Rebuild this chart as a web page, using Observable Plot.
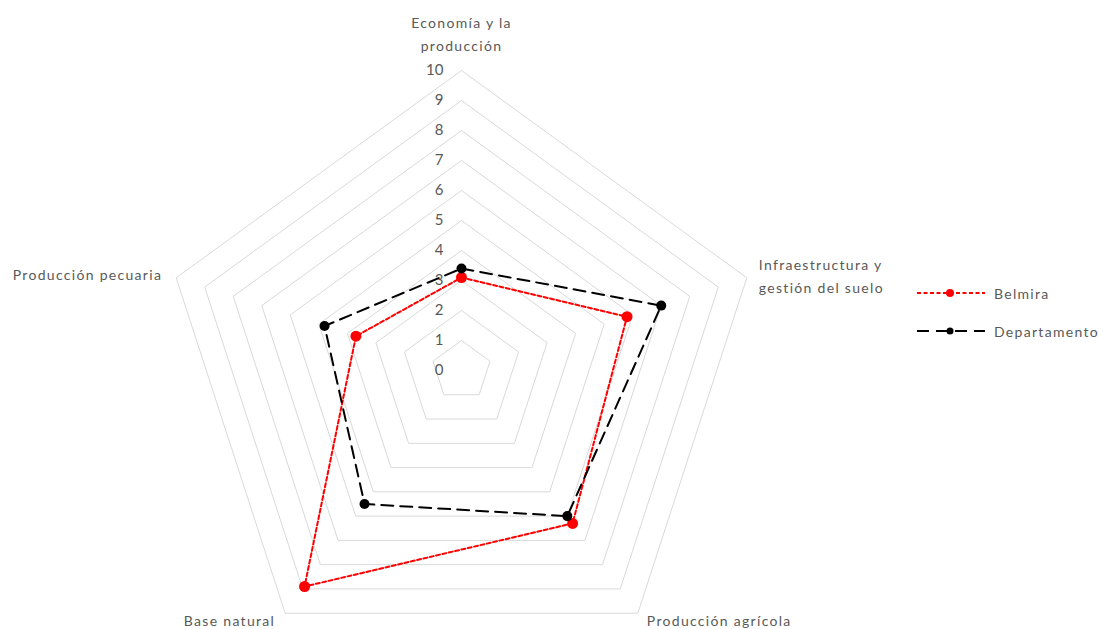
<!DOCTYPE html>
<html><head><meta charset="utf-8">
<script src="https://cdn.jsdelivr.net/npm/d3@7"></script>
<script src="https://cdn.jsdelivr.net/npm/@observablehq/plot@0.6"></script>
<style>
body{margin:0;background:#fff;font-family:Lato,"Open Sans",sans-serif;}
#wrap{position:relative;width:1103px;height:629px;overflow:hidden;}
#legend{position:absolute;left:917px;top:281px;font-size:14px;color:#595959;letter-spacing:1.3px;}
.row{display:flex;align-items:center;height:24px;margin-bottom:14px;white-space:nowrap;}
.row svg{margin-right:9px;}
</style></head><body><div id="wrap"><div id="legend"></div></div>
<script>
const categories = ["Economía y la\nproducción","Infraestructura y\ngestión del suelo","Producción agrícola","Base natural","Producción pecuaria"];
const belmira = [3.1, 5.8, 6.3, 8.9, 3.7];
const departamento = [3.4, 7.0, 6.0, 5.5, 4.8];
const tickValues = [0,1,2,3,4,5,6,7,8,9,10];
const seriesNames = ["Belmira","Departamento"];

const maxVal = 10;
const n = categories.length;
const ang = i => Math.PI/2 - 2*Math.PI*i/n;
const pt = (r,i) => ({x: r*Math.cos(ang(i)), y: r*Math.sin(ang(i))});

const gridData = tickValues.filter(t => t > 0).flatMap(l =>
  d3.range(n+1).map(i => ({level: l, ...pt(l, i % n)})));

const styles = {
  Belmira: {stroke:"#ff0000", dash:"4,2.5", r:5.5, lr:4},
  Departamento: {stroke:"#000000", dash:"12,7", r:5, lr:3.5}
};
const seriesVals = {Belmira: belmira, Departamento: departamento};
const seriesData = seriesNames.map(s => d3.range(n+1).map(i => ({series:s, ...pt(seriesVals[s][i % n], i % n)})));
const seriesPts = seriesNames.map(s => d3.range(n).map(i => ({series:s, ...pt(seriesVals[s][i], i)})));

const labelStyle = [
  {anchor:"middle", dx:0, dy:-38},
  {anchor:"start", dx:12, dy:-4},
  {anchor:"start", dx:9, dy:5},
  {anchor:"end", dx:-10, dy:5},
  {anchor:"end", dx:-14, dy:-5}
];
const labelData = categories.map((c,i) => ({label:c, ...pt(maxVal, i), ...labelStyle[i]}));

const font = {fontFamily:"Lato, sans-serif", fill:"#595959"};

const chart = Plot.plot({
  width: 1103, height: 629,
  margin: 0,
  x: {domain: [-461/30, 642/30], axis: null},
  y: {domain: [-259/30, 370/30], axis: null},
  marks: [
    Plot.line(gridData, {x:"x", y:"y", z:"level", stroke:"#d9d9d9", strokeWidth:1}),
    Plot.text(tickValues, {x:0, y:d=>d, text:d=>String(d), textAnchor:"end", dx:-18, fontSize:15, ...font}),
    ...labelData.map(d => Plot.text([d], {x:"x", y:"y", text:"label", textAnchor:d.anchor, dx:d.dx, dy:d.dy, lineAnchor:"middle", lineHeight:1.65, fontSize:14, ...font})),
    ...seriesNames.map((s,k) => [
      Plot.line(seriesData[k], {x:"x", y:"y", stroke:styles[s].stroke, strokeWidth:2, strokeDasharray:styles[s].dash}),
      Plot.dot(seriesPts[k], {x:"x", y:"y", r:styles[s].r, fill:styles[s].stroke, stroke:"none"})
    ]).flat()
  ]
});
chart.querySelectorAll("text").forEach(t => { if (!/^\d+$/.test(t.textContent)) t.setAttribute("letter-spacing", "1.3px"); });
document.getElementById("wrap").prepend(chart);

const legend = document.getElementById("legend");
seriesNames.forEach(s => {
  const st = styles[s];
  const row = document.createElement("div");
  row.className = "row";
  row.innerHTML = `<svg width="68" height="12"><line x1="0" y1="6" x2="68" y2="6" stroke="${st.stroke}" stroke-width="2" stroke-dasharray="${st.dash}"/><circle cx="33" cy="6" r="${st.lr}" fill="${st.stroke}"/></svg><span>${s}</span>`;
  legend.appendChild(row);
});
</script></body></html>
